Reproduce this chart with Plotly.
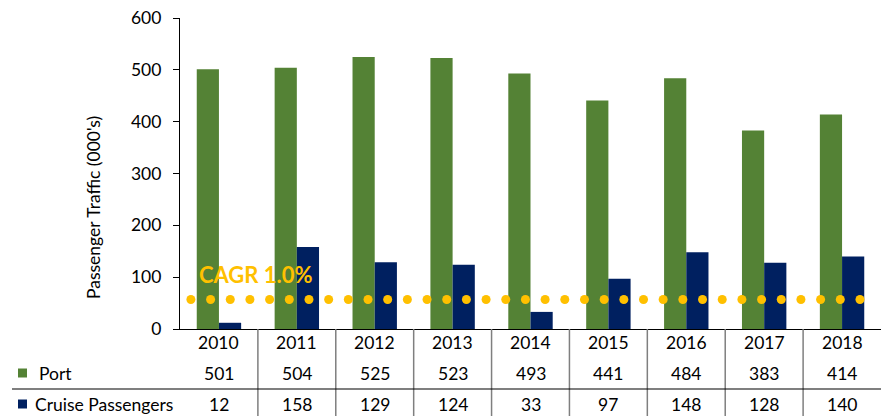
import plotly.graph_objects as go
import numpy as np

years = ["2010", "2011", "2012", "2013", "2014", "2015", "2016", "2017", "2018"]
port = [501, 504, 525, 523, 493, 441, 484, 383, 414]
cruise = [12, 158, 129, 124, 33, 97, 148, 128, 140]
cagr_label = "CAGR 1.0%"
cagr_level = 57

GREEN = "#548235"
NAVY = "#002060"
YELLOW = "#FFC000"
FONT = "Lato, Open Sans, sans-serif"
FS = 17.5

W, H = 889, 416
ML, MR, MT, MB = 180, 8, 18, 87
ph = H - MT - MB
pw = W - ML - MR

def py(ypx):
    return (H - MB - ypx) / ph

def px(xpx):
    return (xpx - ML) / pw

xs = list(range(len(years)))

fig = go.Figure()
fig.add_trace(go.Bar(x=xs, y=port, name="Port", marker=dict(color=GREEN, line=dict(width=0))))
fig.add_trace(go.Bar(x=xs, y=cruise, name="Cruise Passengers", marker=dict(color=NAVY, line=dict(width=0))))

# dotted CAGR line as round markers
dot_x = np.linspace(-0.36, 8.23, 35)
fig.add_trace(go.Scatter(x=dot_x, y=[cagr_level] * len(dot_x), mode="markers",
                         marker=dict(color=YELLOW, size=9, line=dict(width=0)),
                         showlegend=False, hoverinfo="skip"))

fig.add_annotation(x=-0.285, y=106, xref="x", yref="y", text="<b>" + cagr_label + "</b>",
                   showarrow=False, xanchor="left", yanchor="middle",
                   font=dict(family=FONT, size=22, color=YELLOW))

annotations_font = dict(family=FONT, size=FS, color="#000000")
for i, yr in enumerate(years):
    fig.add_annotation(x=i, y=py(342), xref="x", yref="paper", text=yr, showarrow=False,
                       font=annotations_font, yanchor="middle")
    fig.add_annotation(x=i, y=py(373), xref="x", yref="paper", text=str(port[i]), showarrow=False,
                       font=annotations_font, yanchor="middle")
    fig.add_annotation(x=i, y=py(404), xref="x", yref="paper", text=str(cruise[i]), showarrow=False,
                       font=annotations_font, yanchor="middle")

# legend labels in table
fig.add_annotation(x=px(37), y=py(373), xref="paper", yref="paper", text="Port", showarrow=False,
                   xanchor="left", yanchor="middle", font=annotations_font)
fig.add_annotation(x=px(33), y=py(404), xref="paper", yref="paper", text="Cruise Passengers", showarrow=False,
                   xanchor="left", yanchor="middle", font=annotations_font)

# y-axis title
fig.add_annotation(x=px(93), y=py(208), xref="paper", yref="paper", text="Passenger Traffic (000's)",
                   showarrow=False, textangle=-90, xanchor="center", yanchor="middle",
                   font=annotations_font)

shapes = []
# legend squares
for ycen, col in [(373, GREEN), (404, NAVY)]:
    shapes.append(dict(type="rect", xref="paper", yref="paper",
                       x0=px(18), x1=px(27), y0=py(ycen + 4.5), y1=py(ycen - 4.5),
                       fillcolor=col, line=dict(width=0)))
# vertical table lines
for i in range(len(years) - 1):
    shapes.append(dict(type="line", xref="x", yref="paper", x0=i + 0.5, x1=i + 0.5,
                       y0=0, y1=py(H + 2), line=dict(color="#7f7f7f", width=1.5)))
# horizontal table line
shapes.append(dict(type="line", xref="paper", yref="paper", x0=px(12), x1=1,
                   y0=py(389), y1=py(389), line=dict(color="#000000", width=1.2)))

fig.update_layout(
    width=W, height=H,
    margin=dict(l=ML, r=MR, t=MT, b=MB),
    paper_bgcolor="white", plot_bgcolor="white",
    barmode="group", bargap=0.43, bargroupgap=0,
    showlegend=False,
    shapes=shapes,
    font=dict(family=FONT, size=FS, color="#000000"),
    xaxis=dict(range=[-0.5, len(years) - 0.5], showticklabels=False, ticks="",
               showline=True, linecolor="#000000", linewidth=1.2, showgrid=False, zeroline=False),
    yaxis=dict(range=[0, 600], dtick=100, ticks="outside", ticklen=6, tickcolor="#000000",
               showline=True, linecolor="#000000", linewidth=1.2, showgrid=False, zeroline=False,
               ticklabelstandoff=8,
               tickfont=dict(family=FONT, size=FS)),
)

fig.write_html("out.html", config={"displayModeBar": False},
               post_script="document.body.style.margin='0';document.body.style.overflow='hidden';")
